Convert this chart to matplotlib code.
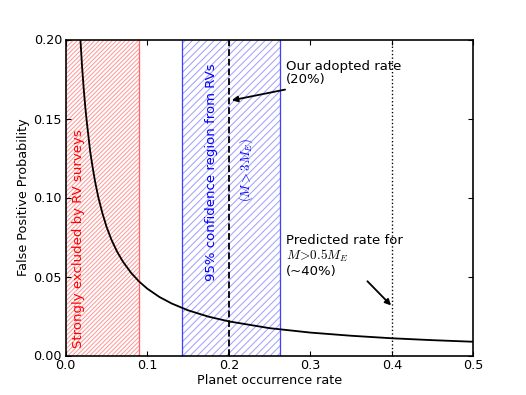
import matplotlib
matplotlib.use("Agg")
import matplotlib.pyplot as plt

# Data
rate = [0.018, 0.020, 0.022, 0.024, 0.026, 0.028, 0.030, 0.033, 0.036, 0.040,
        0.045, 0.050, 0.056, 0.063, 0.070, 0.080, 0.090, 0.100, 0.115, 0.130,
        0.150, 0.175, 0.200, 0.250, 0.300, 0.350, 0.400, 0.450, 0.500]
fpp = [0.200, 0.183, 0.169, 0.157, 0.147, 0.138, 0.129, 0.119, 0.110, 0.100,
       0.090, 0.0815, 0.0733, 0.0657, 0.0595, 0.0524, 0.0468, 0.0423, 0.037, 0.0329,
       0.0286, 0.0246, 0.0216, 0.0173, 0.0145, 0.0125, 0.0109, 0.0097, 0.0087]

excluded = (0.0, 0.09)
confidence = (0.143, 0.263)
adopted_rate = 0.2
predicted_rate = 0.4

xticks = [0.0, 0.1, 0.2, 0.3, 0.4, 0.5]
yticks = [0.00, 0.05, 0.10, 0.15, 0.20]

dpi = 131.5
k = 0.5  # point-size scale so that sizes match a 65.75 dpi rendering

plt.rcParams['mathtext.fontset'] = 'cm'
plt.rcParams['font.family'] = ['DejaVu Sans']
plt.rcParams['xtick.direction'] = 'in'
plt.rcParams['ytick.direction'] = 'in'
plt.rcParams['xtick.top'] = True
plt.rcParams['ytick.right'] = True
plt.rcParams['hatch.linewidth'] = 0.55

fig = plt.figure(figsize=(526 / dpi, 395 / dpi), dpi=dpi, facecolor='white')
ax = fig.add_axes([0.125, 0.1, 0.775, 0.8])

# shaded regions
ax.axvspan(excluded[0], excluded[1], facecolor='none', edgecolor=(1, 0.55, 0.55, 0.9),
           hatch='//////////', linewidth=0)
ax.axvline(excluded[1], color=(1, 0.4, 0.4), lw=1.4 * k)
ax.axvspan(confidence[0], confidence[1], facecolor='none', edgecolor=(0.58, 0.58, 1, 0.9),
           hatch='//////', linewidth=0)
ax.axvline(confidence[0], color=(0.25, 0.25, 1), lw=1.4 * k)
ax.axvline(confidence[1], color=(0.25, 0.25, 1), lw=1.4 * k)

ax.axvline(adopted_rate, color='black', ls='--', lw=2 * k)
ax.axvline(predicted_rate, color='black', ls=':', lw=1.5 * k)

ax.plot(rate, fpp, color='black', lw=2 * k)

ax.set_xlim(0, 0.5)
ax.set_ylim(0, 0.2)
ax.set_xticks(xticks)
ax.set_yticks(yticks)
ax.set_xticklabels([f"{t:.1f}" for t in xticks])
ax.set_yticklabels([f"{t:.2f}" for t in yticks])
ax.tick_params(labelsize=14 * k, length=5 * k, width=1.2 * k, pad=4 * k)
for s in ax.spines.values():
    s.set_linewidth(1.8 * k)
ax.set_xlabel("Planet occurrence rate", fontsize=14 * k, labelpad=2 * k)
ax.set_ylabel("False Positive Probability", fontsize=14 * k, labelpad=4 * k)

ax.text(0.016, 0.005, "Strongly excluded by RV surveys", color='red', rotation=90,
        fontsize=14.5 * k, ha='center', va='bottom')
ax.text(0.179, 0.047, "95% confidence region from RVs", color='blue', rotation=90,
        fontsize=14.5 * k, ha='center', va='bottom')
ax.text(0.221, 0.117, r"$(M>3M_E)$", color='blue', rotation=90,
        fontsize=14 * k, ha='center', va='center')

ax.text(0.27, 0.1873, "Our adopted rate\n(20%)", fontsize=14.5 * k, ha='left', va='top',
        linespacing=1.0)
ax.annotate("", xy=(0.2036, 0.1615), xytext=(0.269, 0.1683),
            arrowprops=dict(arrowstyle='-|>', color='black', lw=2 * k,
                            mutation_scale=13 * k, shrinkA=0, shrinkB=0))
ax.text(0.27, 0.077, "Predicted rate for\n$M\\!>\\!0.5M_E$\n(~40%)", fontsize=14.5 * k,
        ha='left', va='top', linespacing=1.1)
ax.annotate("", xy=(predicted_rate - 0.001, 0.0317), xytext=(0.370, 0.047),
            arrowprops=dict(arrowstyle='-|>', color='black', lw=2 * k,
                            mutation_scale=13 * k, shrinkA=0, shrinkB=0))

fig.savefig("out.png", dpi=dpi, facecolor='white')
